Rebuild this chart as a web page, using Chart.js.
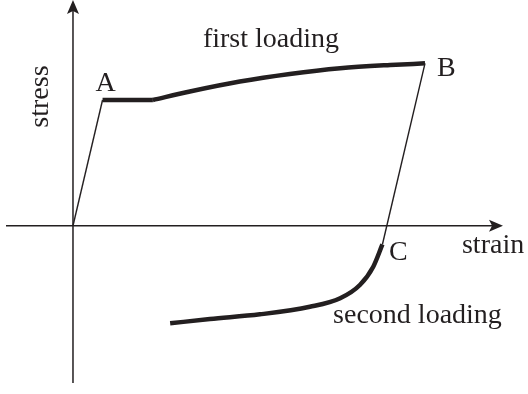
<!DOCTYPE html>
<html>
<head>
<meta charset="utf-8">
<title>stress–strain</title>
<script src="https://cdn.jsdelivr.net/npm/chart.js@4/dist/chart.umd.min.js"></script>
<style>
  html, body { margin: 0; padding: 0; background: #ffffff; }
  #wrap { width: 528px; height: 394px; }
</style>
</head>
<body>
<div id="wrap"><canvas id="chart" width="528" height="394"></canvas></div>
<script>
// Strain / stress (arbitrary units) for each branch of the loading path.
const elasticStrain   = [0.00, 0.84];
const elasticStress   = [0.00, 6.17];

const plateauStrain   = [0.84, 2.27];
const plateauStress   = [6.17, 6.17];

const hardeningStrain = [2.27, 3.32, 4.74, 6.16, 7.59, 9.01, 10.00];
const hardeningStress = [6.17, 6.59, 7.08, 7.45, 7.73, 7.89, 7.97];

const unloadStrain    = [10.00, 8.79];
const unloadStress    = [7.97, -0.92];

const reloadStrain    = [2.76, 3.89, 5.31, 6.73, 7.59, 8.15, 8.53, 8.79];
const reloadStress    = [-4.79, -4.58, -4.35, -3.98, -3.56, -2.91, -2.01, -0.92];

const axisTitles   = { x: 'strain', y: 'stress' };
const pointNames   = ['A', 'B', 'C'];
const branchTitles = ['first loading', 'second loading'];

const INK = '#231f20';
const FONT = '28px "Liberation Serif", "DejaVu Serif", serif';

const toPoints = (xs, ys) => xs.map((x, i) => ({ x: x, y: ys[i] }));

const thin  = { borderWidth: 1.4, tension: 0 };
const thick = { borderWidth: 4.5, tension: 0 };

const datasets = [
  Object.assign({ data: toPoints(elasticStrain, elasticStress) }, thin),
  Object.assign({ data: toPoints(plateauStrain, plateauStress) }, thick),
  Object.assign({ data: toPoints(hardeningStrain, hardeningStress), cubicInterpolationMode: 'monotone' }, thick),
  Object.assign({ data: toPoints(unloadStrain, unloadStress) }, thin),
  Object.assign({ data: toPoints(reloadStrain, reloadStress), cubicInterpolationMode: 'monotone' }, thick)
].map(d => Object.assign(d, {
  borderColor: INK,
  backgroundColor: INK,
  pointRadius: 0,
  fill: false,
  borderCapStyle: 'butt',
  borderJoinStyle: 'miter'
}));

// Point markers: which dataset end carries each letter, and text offset in px.
const pointLabels = [
  { text: pointNames[0], ds: 0, idx: 1, dx: -7,  dy: -9 },
  { text: pointNames[1], ds: 2, idx: hardeningStrain.length - 1, dx: 12, dy: 13 },
  { text: pointNames[2], ds: 4, idx: reloadStrain.length - 1, dx: 6.5, dy: 15.5 }
];

// Free text anchored in data units (left edge, baseline).
const textNotes = [
  { text: branchTitles[0], x: 3.69, y: 8.77 },
  { text: branchTitles[1], x: 7.39, y: -4.78 },
  { text: axisTitles.x,    x: 11.05, y: -1.35 },
  { text: axisTitles.y,    x: -0.70, y: 6.34, rotate: true }
];

function arrowHead(ctx, tipX, tipY, dirX, dirY, len, half) {
  const px = -dirY, py = dirX;
  const bx = tipX - dirX * len, by = tipY - dirY * len;
  const nx = tipX - dirX * len * 0.78, ny = tipY - dirY * len * 0.78;
  ctx.beginPath();
  ctx.moveTo(tipX, tipY);
  ctx.lineTo(bx + px * half, by + py * half);
  ctx.lineTo(nx, ny);
  ctx.lineTo(bx - px * half, by - py * half);
  ctx.closePath();
  ctx.fill();
}

const axesPlugin = {
  id: 'crossAxes',
  beforeDatasetsDraw(chart) {
    const { ctx, chartArea: a, scales: { x, y } } = chart;
    const x0 = x.getPixelForValue(0);
    const y0 = y.getPixelForValue(0);
    ctx.save();
    ctx.strokeStyle = INK;
    ctx.fillStyle = INK;
    ctx.lineWidth = 1.5;
    ctx.beginPath();
    ctx.moveTo(a.left, y0);
    ctx.lineTo(a.right - 8, y0);
    ctx.moveTo(x0, a.bottom);
    ctx.lineTo(x0, a.top + 8);
    ctx.stroke();
    arrowHead(ctx, a.right, y0, 1, 0, 14, 6);
    arrowHead(ctx, x0, a.top, 0, -1, 14, 6);
    ctx.restore();
  },
  afterDatasetsDraw(chart) {
    const { ctx, scales: { x, y } } = chart;
    ctx.save();
    ctx.fillStyle = INK;
    ctx.font = FONT;
    ctx.textAlign = 'left';
    ctx.textBaseline = 'alphabetic';
    pointLabels.forEach(l => {
      const p = chart.data.datasets[l.ds].data[l.idx];
      ctx.fillText(l.text, x.getPixelForValue(p.x) + l.dx, y.getPixelForValue(p.y) + l.dy);
    });
    textNotes.forEach(n => {
      const px = x.getPixelForValue(n.x);
      const py = y.getPixelForValue(n.y);
      if (n.rotate) {
        ctx.save();
        ctx.translate(px, py);
        ctx.rotate(-Math.PI / 2);
        ctx.textAlign = 'center';
        ctx.fillText(n.text, 0, 0);
        ctx.restore();
      } else {
        ctx.fillText(n.text, px, py);
      }
    });
    ctx.restore();
  }
};

new Chart(document.getElementById('chart'), {
  type: 'line',
  data: { datasets: datasets },
  options: {
    responsive: false,
    animation: false,
    devicePixelRatio: 1,
    layout: { padding: { left: 6, right: 25, top: 0, bottom: 11 } },
    plugins: { legend: { display: false }, tooltip: { enabled: false } },
    scales: {
      x: { type: 'linear', display: false, min: -1.903, max: 12.216 },
      y: { type: 'linear', display: false, min: -7.72, max: 11.08 }
    }
  },
  plugins: [axesPlugin]
});
</script>
</body>
</html>
